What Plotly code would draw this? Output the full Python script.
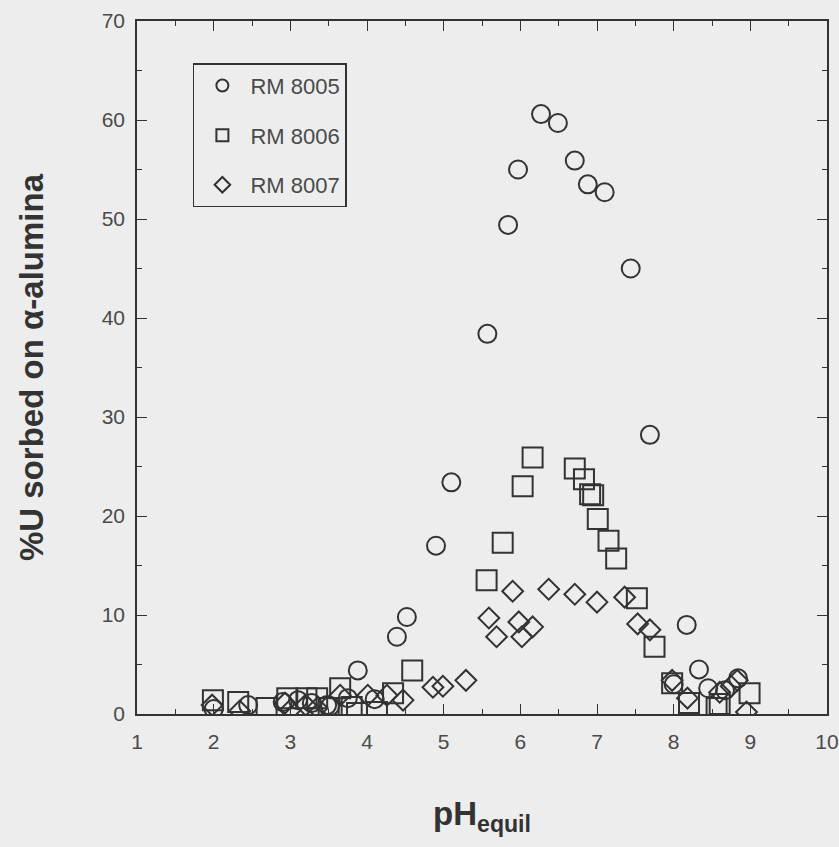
import plotly.graph_objects as go

# Sorption of U on alpha-alumina vs equilibrium pH for three reference materials
ph_8005 = [2.00, 2.45, 2.90, 3.10, 3.28, 3.48, 3.52, 3.75, 3.88, 4.10, 4.39, 4.52,
           4.90, 5.10, 5.57, 5.84, 5.97, 6.27, 6.49, 6.71, 6.88, 7.10, 7.44, 7.69,
           8.17, 8.33, 8.45, 8.67, 8.84, 8.00]
u_8005 = [0.5, 0.9, 1.2, 1.4, 1.1, 0.9, 0.8, 1.6, 4.4, 1.5, 7.8, 9.8,
          17.0, 23.4, 38.4, 49.4, 55.0, 60.6, 59.7, 55.9, 53.5, 52.7, 45.0, 28.2,
          9.0, 4.5, 2.6, 2.4, 3.6, 3.0]

ph_8006 = [1.99, 2.32, 2.69, 2.96, 3.21, 3.35, 3.50, 3.65, 3.80, 3.87, 4.13, 4.34,
           4.59, 5.56, 5.77, 6.03, 6.16, 6.71, 6.83, 6.91, 6.95, 7.01, 7.15, 7.25,
           7.52, 7.75, 7.98, 8.20, 8.56, 8.99, 8.60]
u_8006 = [1.4, 1.2, 0.6, 1.6, 1.6, 1.6, 0.6, 2.6, 0.7, 0.1, 0.2, 2.1,
          4.4, 13.5, 17.3, 23.0, 25.9, 24.8, 23.7, 22.2, 22.1, 19.7, 17.5, 15.7,
          11.7, 6.8, 3.1, 1.1, 0.6, 2.1, 1.0]

ph_8007 = [1.98, 2.34, 2.93, 3.00, 3.20, 3.35, 3.65, 4.01, 4.26, 4.47, 4.86, 4.99,
           5.29, 5.59, 5.69, 5.90, 5.98, 6.02, 6.16, 6.37, 6.71, 7.00, 7.36, 7.53,
           7.69, 7.98, 8.18, 8.60, 8.83, 8.95, 8.75]
u_8007 = [0.9, 0.3, 1.1, 0.4, 0.9, 0.6, 1.9, 1.9, 1.9, 1.4, 2.7, 2.8,
          3.4, 9.7, 7.8, 12.4, 9.3, 7.8, 8.8, 12.6, 12.1, 11.3, 11.8, 9.1,
          8.5, 3.4, 1.6, 2.2, 3.4, 0.2, 2.8]

series = [
    ("RM 8005", ph_8005, u_8005, "circle-open", 18),
    ("RM 8006", ph_8006, u_8006, "square-open", 20),
    ("RM 8007", ph_8007, u_8007, "diamond-open", 16),
]

ink = "#333333"
label_grey = "#4a4a4a"
bg = "#ededed"
font_family = "Arial, Liberation Sans, sans-serif"

fig = go.Figure()
for name, xs, ys, sym, size in series:
    fig.add_trace(go.Scatter(
        x=xs, y=ys, mode="markers", name=name, legendgroup=name,
        marker=dict(symbol=sym, size=size, color=ink, line=dict(color=ink, width=2)),
    ))

axis_common = dict(
    showline=True, linecolor=ink, linewidth=1.6, mirror="allticks",
    ticks="inside", ticklen=10, tickwidth=1.4, tickcolor=ink,
    showgrid=False, zeroline=False,
    tickfont=dict(family=font_family, size=21, color=label_grey),
)

fig.update_xaxes(
    range=[1, 10], tick0=1, dtick=1, ticklabelstandoff=8,
    minor=dict(dtick=0.5, ticklen=5, ticks="inside", tickcolor=ink, tickwidth=1.2),
    title=dict(text="<b>pH<sub>equil</sub></b>", standoff=50,
               font=dict(family=font_family, size=33, color=ink)),
    **axis_common,
)
fig.update_yaxes(
    range=[0, 70], tick0=0, dtick=10, ticklabelstandoff=6,
    minor=dict(dtick=5, ticklen=5, ticks="inside", tickcolor=ink, tickwidth=1.2),
    title=dict(text="<b>%U sorbed on α-alumina</b>", standoff=48,
               font=dict(family=font_family, size=33, color=ink)),
    **axis_common,
)

fig.update_layout(
    width=839, height=847,
    margin=dict(l=137, r=12, t=21, b=133, autoexpand=False),
    paper_bgcolor=bg, plot_bgcolor=bg,
    showlegend=True,
    legend=dict(
        x=0.081, y=0.939, xanchor="left", yanchor="top",
        bgcolor=bg, bordercolor=ink, borderwidth=1.5,
        traceorder="grouped", tracegroupgap=18, itemwidth=46,
        font=dict(family=font_family, size=22, color=label_grey),
        itemsizing="constant",
    ),
)

fig.write_html("out.html")
